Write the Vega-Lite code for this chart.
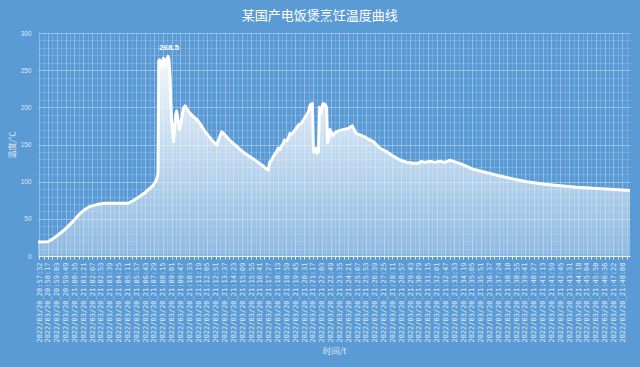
{
"$schema":"https://vega.github.io/schema/vega-lite/v6.json",
"width":592,"height":223,
"autosize":{"type":"none"},
"padding":{"left":38,"top":33,"right":10,"bottom":111},
"background":"#5B9BD5",
"config":{"view":{"stroke":null}},
"title":{"text":"某国产电饭煲烹饪温度曲线","color":"white","fontSize":13,"font":"Noto Sans CJK SC","fontWeight":"normal","anchor":"middle","frame":"bounds","baseline":"bottom","offset":11,"dy":17},
"data":{"values":[
{"t":"2022/03/20 20:57:25","v":19},
{"t":"2022/03/20 20:58:16","v":19.2},
{"t":"2022/03/20 20:58:42","v":23},
{"t":"2022/03/20 20:59:16","v":29.6},
{"t":"2022/03/20 20:59:51","v":37.2},
{"t":"2022/03/20 21:00:26","v":46.2},
{"t":"2022/03/20 21:01:00","v":56},
{"t":"2022/03/20 21:01:26","v":62},
{"t":"2022/03/20 21:01:52","v":66.4},
{"t":"2022/03/20 21:02:36","v":69.5},
{"t":"2022/03/20 21:03:19","v":70.9},
{"t":"2022/03/20 21:04:11","v":71},
{"t":"2022/03/20 21:05:12","v":70.9},
{"t":"2022/03/20 21:05:38","v":74},
{"t":"2022/03/20 21:06:13","v":79.8},
{"t":"2022/03/20 21:06:48","v":86.5},
{"t":"2022/03/20 21:07:22","v":94.2},
{"t":"2022/03/20 21:07:40","v":101.3},
{"t":"2022/03/20 21:07:46","v":106},
{"t":"2022/03/20 21:07:50","v":111},
{"t":"2022/03/20 21:07:54","v":262},
{"t":"2022/03/20 21:07:58","v":264},
{"t":"2022/03/20 21:08:02","v":258},
{"t":"2022/03/20 21:08:07","v":262},
{"t":"2022/03/20 21:08:11","v":254},
{"t":"2022/03/20 21:08:18","v":266},
{"t":"2022/03/20 21:08:27","v":256},
{"t":"2022/03/20 21:08:33","v":263},
{"t":"2022/03/20 21:08:42","v":268.5},
{"t":"2022/03/20 21:08:47","v":265},
{"t":"2022/03/20 21:08:53","v":239},
{"t":"2022/03/20 21:08:56","v":208},
{"t":"2022/03/20 21:09:01","v":181},
{"t":"2022/03/20 21:09:07","v":163},
{"t":"2022/03/20 21:09:10","v":154},
{"t":"2022/03/20 21:09:15","v":167},
{"t":"2022/03/20 21:09:22","v":190},
{"t":"2022/03/20 21:09:27","v":195},
{"t":"2022/03/20 21:09:36","v":181},
{"t":"2022/03/20 21:09:41","v":170},
{"t":"2022/03/20 21:09:48","v":176},
{"t":"2022/03/20 21:09:55","v":188},
{"t":"2022/03/20 21:10:02","v":199},
{"t":"2022/03/20 21:10:11","v":202},
{"t":"2022/03/20 21:10:23","v":197},
{"t":"2022/03/20 21:10:37","v":192},
{"t":"2022/03/20 21:10:54","v":187.5},
{"t":"2022/03/20 21:11:11","v":184},
{"t":"2022/03/20 21:11:20","v":181},
{"t":"2022/03/20 21:11:37","v":175},
{"t":"2022/03/20 21:11:55","v":167},
{"t":"2022/03/20 21:12:12","v":162},
{"t":"2022/03/20 21:12:30","v":156},
{"t":"2022/03/20 21:12:56","v":149.5},
{"t":"2022/03/20 21:13:08","v":158},
{"t":"2022/03/20 21:13:22","v":167},
{"t":"2022/03/20 21:13:34","v":164},
{"t":"2022/03/20 21:13:48","v":160},
{"t":"2022/03/20 21:14:05","v":155},
{"t":"2022/03/20 21:14:31","v":149.5},
{"t":"2022/03/20 21:14:57","v":143.5},
{"t":"2022/03/20 21:15:23","v":138},
{"t":"2022/03/20 21:15:49","v":133.5},
{"t":"2022/03/20 21:16:15","v":129},
{"t":"2022/03/20 21:16:50","v":122.5},
{"t":"2022/03/20 21:17:16","v":116.7},
{"t":"2022/03/20 21:17:25","v":115.5},
{"t":"2022/03/20 21:17:31","v":126},
{"t":"2022/03/20 21:17:42","v":129},
{"t":"2022/03/20 21:17:50","v":133.6},
{"t":"2022/03/20 21:18:08","v":140.4},
{"t":"2022/03/20 21:18:15","v":145},
{"t":"2022/03/20 21:18:25","v":143},
{"t":"2022/03/20 21:18:31","v":147},
{"t":"2022/03/20 21:18:43","v":151.7},
{"t":"2022/03/20 21:18:49","v":156},
{"t":"2022/03/20 21:19:00","v":155},
{"t":"2022/03/20 21:19:09","v":158.4},
{"t":"2022/03/20 21:19:17","v":165},
{"t":"2022/03/20 21:19:28","v":164},
{"t":"2022/03/20 21:19:44","v":169.6},
{"t":"2022/03/20 21:20:01","v":176},
{"t":"2022/03/20 21:20:15","v":178},
{"t":"2022/03/20 21:20:27","v":183},
{"t":"2022/03/20 21:20:44","v":190},
{"t":"2022/03/20 21:20:54","v":194},
{"t":"2022/03/20 21:21:02","v":203},
{"t":"2022/03/20 21:21:14","v":205},
{"t":"2022/03/20 21:21:19","v":145},
{"t":"2022/03/20 21:21:22","v":140},
{"t":"2022/03/20 21:21:31","v":145},
{"t":"2022/03/20 21:21:38","v":138},
{"t":"2022/03/20 21:21:45","v":140},
{"t":"2022/03/20 21:21:51","v":200},
{"t":"2022/03/20 21:21:59","v":192},
{"t":"2022/03/20 21:22:09","v":205},
{"t":"2022/03/20 21:22:20","v":204},
{"t":"2022/03/20 21:22:28","v":200},
{"t":"2022/03/20 21:22:33","v":152},
{"t":"2022/03/20 21:22:38","v":155},
{"t":"2022/03/20 21:22:46","v":170},
{"t":"2022/03/20 21:22:55","v":165},
{"t":"2022/03/20 21:23:03","v":162},
{"t":"2022/03/20 21:23:12","v":166},
{"t":"2022/03/20 21:23:27","v":168},
{"t":"2022/03/20 21:23:53","v":170},
{"t":"2022/03/20 21:24:19","v":171.5},
{"t":"2022/03/20 21:24:42","v":175},
{"t":"2022/03/20 21:25:01","v":165},
{"t":"2022/03/20 21:25:22","v":163},
{"t":"2022/03/20 21:25:48","v":160},
{"t":"2022/03/20 21:26:11","v":156.5},
{"t":"2022/03/20 21:26:31","v":153.8},
{"t":"2022/03/20 21:27:06","v":145},
{"t":"2022/03/20 21:27:41","v":140.4},
{"t":"2022/03/20 21:28:15","v":134.6},
{"t":"2022/03/20 21:28:50","v":129.2},
{"t":"2022/03/20 21:29:25","v":126.1},
{"t":"2022/03/20 21:29:59","v":124.8},
{"t":"2022/03/20 21:30:25","v":124.8},
{"t":"2022/03/20 21:30:39","v":127},
{"t":"2022/03/20 21:31:00","v":126},
{"t":"2022/03/20 21:31:26","v":127.5},
{"t":"2022/03/20 21:31:52","v":126},
{"t":"2022/03/20 21:32:18","v":127.5},
{"t":"2022/03/20 21:32:44","v":126},
{"t":"2022/03/20 21:33:10","v":129},
{"t":"2022/03/20 21:33:45","v":126},
{"t":"2022/03/20 21:34:20","v":122.5},
{"t":"2022/03/20 21:35:12","v":116.7},
{"t":"2022/03/20 21:36:22","v":112.2},
{"t":"2022/03/20 21:37:31","v":107.7},
{"t":"2022/03/20 21:38:40","v":103.6},
{"t":"2022/03/20 21:39:50","v":100},
{"t":"2022/03/20 21:41:16","v":96.9},
{"t":"2022/03/20 21:42:43","v":94.6},
{"t":"2022/03/20 21:44:10","v":92.5},
{"t":"2022/03/20 21:45:37","v":91.1},
{"t":"2022/03/20 21:47:04","v":89.8},
{"t":"2022/03/20 21:48:31","v":88.4},
{"t":"2022/03/20 21:48:48","v":88}
]},
"encoding":{
"x":{"field":"t","type":"temporal",
"scale":{"nice":false,"domain":[{"year":2022,"month":3,"date":20,"hours":20,"minutes":57,"seconds":25},{"year":2022,"month":3,"date":20,"hours":21,"minutes":48,"seconds":48}]},
"axis":{
"values":[
{"year":2022,"month":3,"date":20,"hours":20,"minutes":57,"seconds":32},
{"year":2022,"month":3,"date":20,"hours":20,"minutes":58,"seconds":17},
{"year":2022,"month":3,"date":20,"hours":20,"minutes":59,"seconds":3},
{"year":2022,"month":3,"date":20,"hours":20,"minutes":59,"seconds":49},
{"year":2022,"month":3,"date":20,"hours":21,"minutes":0,"seconds":35},
{"year":2022,"month":3,"date":20,"hours":21,"minutes":1,"seconds":21},
{"year":2022,"month":3,"date":20,"hours":21,"minutes":2,"seconds":7},
{"year":2022,"month":3,"date":20,"hours":21,"minutes":2,"seconds":53},
{"year":2022,"month":3,"date":20,"hours":21,"minutes":3,"seconds":39},
{"year":2022,"month":3,"date":20,"hours":21,"minutes":4,"seconds":25},
{"year":2022,"month":3,"date":20,"hours":21,"minutes":5,"seconds":11},
{"year":2022,"month":3,"date":20,"hours":21,"minutes":5,"seconds":57},
{"year":2022,"month":3,"date":20,"hours":21,"minutes":6,"seconds":43},
{"year":2022,"month":3,"date":20,"hours":21,"minutes":7,"seconds":29},
{"year":2022,"month":3,"date":20,"hours":21,"minutes":8,"seconds":15},
{"year":2022,"month":3,"date":20,"hours":21,"minutes":9,"seconds":1},
{"year":2022,"month":3,"date":20,"hours":21,"minutes":9,"seconds":47},
{"year":2022,"month":3,"date":20,"hours":21,"minutes":10,"seconds":33},
{"year":2022,"month":3,"date":20,"hours":21,"minutes":11,"seconds":19},
{"year":2022,"month":3,"date":20,"hours":21,"minutes":12,"seconds":5},
{"year":2022,"month":3,"date":20,"hours":21,"minutes":12,"seconds":51},
{"year":2022,"month":3,"date":20,"hours":21,"minutes":13,"seconds":37},
{"year":2022,"month":3,"date":20,"hours":21,"minutes":14,"seconds":23},
{"year":2022,"month":3,"date":20,"hours":21,"minutes":15,"seconds":9},
{"year":2022,"month":3,"date":20,"hours":21,"minutes":15,"seconds":55},
{"year":2022,"month":3,"date":20,"hours":21,"minutes":16,"seconds":41},
{"year":2022,"month":3,"date":20,"hours":21,"minutes":17,"seconds":27},
{"year":2022,"month":3,"date":20,"hours":21,"minutes":18,"seconds":13},
{"year":2022,"month":3,"date":20,"hours":21,"minutes":18,"seconds":59},
{"year":2022,"month":3,"date":20,"hours":21,"minutes":19,"seconds":45},
{"year":2022,"month":3,"date":20,"hours":21,"minutes":20,"seconds":31},
{"year":2022,"month":3,"date":20,"hours":21,"minutes":21,"seconds":17},
{"year":2022,"month":3,"date":20,"hours":21,"minutes":22,"seconds":3},
{"year":2022,"month":3,"date":20,"hours":21,"minutes":22,"seconds":49},
{"year":2022,"month":3,"date":20,"hours":21,"minutes":23,"seconds":35},
{"year":2022,"month":3,"date":20,"hours":21,"minutes":24,"seconds":21},
{"year":2022,"month":3,"date":20,"hours":21,"minutes":25,"seconds":7},
{"year":2022,"month":3,"date":20,"hours":21,"minutes":25,"seconds":53},
{"year":2022,"month":3,"date":20,"hours":21,"minutes":26,"seconds":39},
{"year":2022,"month":3,"date":20,"hours":21,"minutes":27,"seconds":25},
{"year":2022,"month":3,"date":20,"hours":21,"minutes":28,"seconds":11},
{"year":2022,"month":3,"date":20,"hours":21,"minutes":28,"seconds":57},
{"year":2022,"month":3,"date":20,"hours":21,"minutes":29,"seconds":43},
{"year":2022,"month":3,"date":20,"hours":21,"minutes":30,"seconds":29},
{"year":2022,"month":3,"date":20,"hours":21,"minutes":31,"seconds":15},
{"year":2022,"month":3,"date":20,"hours":21,"minutes":32,"seconds":1},
{"year":2022,"month":3,"date":20,"hours":21,"minutes":32,"seconds":47},
{"year":2022,"month":3,"date":20,"hours":21,"minutes":33,"seconds":33},
{"year":2022,"month":3,"date":20,"hours":21,"minutes":34,"seconds":19},
{"year":2022,"month":3,"date":20,"hours":21,"minutes":35,"seconds":5},
{"year":2022,"month":3,"date":20,"hours":21,"minutes":35,"seconds":51},
{"year":2022,"month":3,"date":20,"hours":21,"minutes":36,"seconds":37},
{"year":2022,"month":3,"date":20,"hours":21,"minutes":37,"seconds":24},
{"year":2022,"month":3,"date":20,"hours":21,"minutes":38,"seconds":10},
{"year":2022,"month":3,"date":20,"hours":21,"minutes":38,"seconds":55},
{"year":2022,"month":3,"date":20,"hours":21,"minutes":39,"seconds":41},
{"year":2022,"month":3,"date":20,"hours":21,"minutes":40,"seconds":27},
{"year":2022,"month":3,"date":20,"hours":21,"minutes":41,"seconds":13},
{"year":2022,"month":3,"date":20,"hours":21,"minutes":41,"seconds":59},
{"year":2022,"month":3,"date":20,"hours":21,"minutes":42,"seconds":45},
{"year":2022,"month":3,"date":20,"hours":21,"minutes":43,"seconds":31},
{"year":2022,"month":3,"date":20,"hours":21,"minutes":44,"seconds":18},
{"year":2022,"month":3,"date":20,"hours":21,"minutes":45,"seconds":4},
{"year":2022,"month":3,"date":20,"hours":21,"minutes":45,"seconds":50},
{"year":2022,"month":3,"date":20,"hours":21,"minutes":46,"seconds":36},
{"year":2022,"month":3,"date":20,"hours":21,"minutes":47,"seconds":22},
{"year":2022,"month":3,"date":20,"hours":21,"minutes":48,"seconds":8},
{"year":2022,"month":3,"date":20,"hours":20,"minutes":57,"seconds":55,"milliseconds":500},
{"year":2022,"month":3,"date":20,"hours":20,"minutes":58,"seconds":40,"milliseconds":500},
{"year":2022,"month":3,"date":20,"hours":20,"minutes":59,"seconds":26,"milliseconds":500},
{"year":2022,"month":3,"date":20,"hours":21,"minutes":0,"seconds":12,"milliseconds":500},
{"year":2022,"month":3,"date":20,"hours":21,"minutes":0,"seconds":58,"milliseconds":500},
{"year":2022,"month":3,"date":20,"hours":21,"minutes":1,"seconds":44,"milliseconds":500},
{"year":2022,"month":3,"date":20,"hours":21,"minutes":2,"seconds":30,"milliseconds":500},
{"year":2022,"month":3,"date":20,"hours":21,"minutes":3,"seconds":16,"milliseconds":500},
{"year":2022,"month":3,"date":20,"hours":21,"minutes":4,"seconds":2,"milliseconds":500},
{"year":2022,"month":3,"date":20,"hours":21,"minutes":4,"seconds":48,"milliseconds":500},
{"year":2022,"month":3,"date":20,"hours":21,"minutes":5,"seconds":34,"milliseconds":500},
{"year":2022,"month":3,"date":20,"hours":21,"minutes":6,"seconds":20,"milliseconds":500},
{"year":2022,"month":3,"date":20,"hours":21,"minutes":7,"seconds":6,"milliseconds":500},
{"year":2022,"month":3,"date":20,"hours":21,"minutes":7,"seconds":52,"milliseconds":500},
{"year":2022,"month":3,"date":20,"hours":21,"minutes":8,"seconds":38,"milliseconds":500},
{"year":2022,"month":3,"date":20,"hours":21,"minutes":9,"seconds":24,"milliseconds":500},
{"year":2022,"month":3,"date":20,"hours":21,"minutes":10,"seconds":10,"milliseconds":500},
{"year":2022,"month":3,"date":20,"hours":21,"minutes":10,"seconds":56,"milliseconds":500},
{"year":2022,"month":3,"date":20,"hours":21,"minutes":11,"seconds":42,"milliseconds":500},
{"year":2022,"month":3,"date":20,"hours":21,"minutes":12,"seconds":28,"milliseconds":500},
{"year":2022,"month":3,"date":20,"hours":21,"minutes":13,"seconds":14,"milliseconds":500},
{"year":2022,"month":3,"date":20,"hours":21,"minutes":14,"seconds":0,"milliseconds":500},
{"year":2022,"month":3,"date":20,"hours":21,"minutes":14,"seconds":46,"milliseconds":500},
{"year":2022,"month":3,"date":20,"hours":21,"minutes":15,"seconds":32,"milliseconds":500},
{"year":2022,"month":3,"date":20,"hours":21,"minutes":16,"seconds":18,"milliseconds":500},
{"year":2022,"month":3,"date":20,"hours":21,"minutes":17,"seconds":4,"milliseconds":500},
{"year":2022,"month":3,"date":20,"hours":21,"minutes":17,"seconds":50,"milliseconds":500},
{"year":2022,"month":3,"date":20,"hours":21,"minutes":18,"seconds":36,"milliseconds":500},
{"year":2022,"month":3,"date":20,"hours":21,"minutes":19,"seconds":22,"milliseconds":500},
{"year":2022,"month":3,"date":20,"hours":21,"minutes":20,"seconds":8,"milliseconds":500},
{"year":2022,"month":3,"date":20,"hours":21,"minutes":20,"seconds":54,"milliseconds":500},
{"year":2022,"month":3,"date":20,"hours":21,"minutes":21,"seconds":40,"milliseconds":500},
{"year":2022,"month":3,"date":20,"hours":21,"minutes":22,"seconds":26,"milliseconds":500},
{"year":2022,"month":3,"date":20,"hours":21,"minutes":23,"seconds":12,"milliseconds":500},
{"year":2022,"month":3,"date":20,"hours":21,"minutes":23,"seconds":58,"milliseconds":500},
{"year":2022,"month":3,"date":20,"hours":21,"minutes":24,"seconds":44,"milliseconds":500},
{"year":2022,"month":3,"date":20,"hours":21,"minutes":25,"seconds":30,"milliseconds":500},
{"year":2022,"month":3,"date":20,"hours":21,"minutes":26,"seconds":16,"milliseconds":500},
{"year":2022,"month":3,"date":20,"hours":21,"minutes":27,"seconds":2,"milliseconds":500},
{"year":2022,"month":3,"date":20,"hours":21,"minutes":27,"seconds":48,"milliseconds":500},
{"year":2022,"month":3,"date":20,"hours":21,"minutes":28,"seconds":34,"milliseconds":500},
{"year":2022,"month":3,"date":20,"hours":21,"minutes":29,"seconds":20,"milliseconds":500},
{"year":2022,"month":3,"date":20,"hours":21,"minutes":30,"seconds":6,"milliseconds":500},
{"year":2022,"month":3,"date":20,"hours":21,"minutes":30,"seconds":52,"milliseconds":500},
{"year":2022,"month":3,"date":20,"hours":21,"minutes":31,"seconds":38,"milliseconds":500},
{"year":2022,"month":3,"date":20,"hours":21,"minutes":32,"seconds":24,"milliseconds":500},
{"year":2022,"month":3,"date":20,"hours":21,"minutes":33,"seconds":10,"milliseconds":500},
{"year":2022,"month":3,"date":20,"hours":21,"minutes":33,"seconds":56,"milliseconds":500},
{"year":2022,"month":3,"date":20,"hours":21,"minutes":34,"seconds":42,"milliseconds":500},
{"year":2022,"month":3,"date":20,"hours":21,"minutes":35,"seconds":28,"milliseconds":500},
{"year":2022,"month":3,"date":20,"hours":21,"minutes":36,"seconds":14,"milliseconds":500},
{"year":2022,"month":3,"date":20,"hours":21,"minutes":37,"seconds":0,"milliseconds":500},
{"year":2022,"month":3,"date":20,"hours":21,"minutes":37,"seconds":47,"milliseconds":500},
{"year":2022,"month":3,"date":20,"hours":21,"minutes":38,"seconds":33,"milliseconds":500},
{"year":2022,"month":3,"date":20,"hours":21,"minutes":39,"seconds":18,"milliseconds":500},
{"year":2022,"month":3,"date":20,"hours":21,"minutes":40,"seconds":4,"milliseconds":500},
{"year":2022,"month":3,"date":20,"hours":21,"minutes":40,"seconds":50,"milliseconds":500},
{"year":2022,"month":3,"date":20,"hours":21,"minutes":41,"seconds":36,"milliseconds":500},
{"year":2022,"month":3,"date":20,"hours":21,"minutes":42,"seconds":22,"milliseconds":500},
{"year":2022,"month":3,"date":20,"hours":21,"minutes":43,"seconds":8,"milliseconds":500},
{"year":2022,"month":3,"date":20,"hours":21,"minutes":43,"seconds":54,"milliseconds":500},
{"year":2022,"month":3,"date":20,"hours":21,"minutes":44,"seconds":41,"milliseconds":500},
{"year":2022,"month":3,"date":20,"hours":21,"minutes":45,"seconds":27,"milliseconds":500},
{"year":2022,"month":3,"date":20,"hours":21,"minutes":46,"seconds":13,"milliseconds":500},
{"year":2022,"month":3,"date":20,"hours":21,"minutes":46,"seconds":59,"milliseconds":500},
{"year":2022,"month":3,"date":20,"hours":21,"minutes":47,"seconds":45,"milliseconds":500},
{"year":2022,"month":3,"date":20,"hours":21,"minutes":48,"seconds":31,"milliseconds":500}
],
"format":"%Y/%m/%d_%H:%M:%S",
"labelExpr":"datum.value % 1000 === 0 ? datum.label : ''",
"labelAngle":270,
"labelFont":"DejaVu Sans Mono","labelFontSize":7,"labelColor":"#DCE6F2",
"labelOverlap":false,"labelFlush":false,"labelBound":false,"labelPadding":3,
"grid":true,"gridColor":"white",
"gridOpacity":{"condition":{"test":"datum.value % 1000 === 0","value":0.3},"value":0.15},
"ticks":true,"tickColor":"white","tickSize":3,"tickOpacity":0.8,
"domain":true,"domainColor":"white","domainOpacity":0.8,
"title":"时间/t","titleColor":"#DCE6F2","titleFontSize":8.5,"titleFont":"Noto Sans CJK SC","titleFontWeight":"normal","titlePadding":4
}},
"y":{"field":"v","type":"quantitative",
"scale":{"domain":[0,300],"nice":false},
"axis":{
"values":[0,10,20,30,40,50,60,70,80,90,100,110,120,130,140,150,160,170,180,190,200,210,220,230,240,250,260,270,280,290,300],
"labelExpr":"datum.value % 50 === 0 ? datum.label : ''",
"ticks":false,"domain":false,
"grid":true,"gridColor":"white",
"gridOpacity":{"condition":{"test":"datum.value % 50 === 0","value":0.35},"value":0.15},
"labelColor":"#DCE6F2","labelFontSize":6.5,"labelFont":"Liberation Sans","labelPadding":7,
"title":"温度/℃","titleColor":"#DCE6F2","titleFontSize":8,"titleFont":"Noto Sans CJK SC","titleFontWeight":"normal","titlePadding":4
}}
},
"layer":[
{"mark":{"type":"area","color":{"gradient":"linear","x1":0,"y1":0,"x2":0,"y2":1,"stops":[{"offset":0,"color":"rgba(255,255,255,0.92)"},{"offset":1,"color":"rgba(255,255,255,0.3)"}]}}},
{"mark":{"type":"line","color":"white","strokeWidth":3,"strokeJoin":"round"}},
{"transform":[{"filter":{"field":"v","equal":268.5}}],
"mark":{"type":"text","color":"white","fontSize":8,"fontWeight":"bold","font":"Liberation Sans","baseline":"bottom","dy":-4,"dx":1},
"encoding":{"text":{"field":"v","type":"quantitative","format":".1f"}}}
]
}
